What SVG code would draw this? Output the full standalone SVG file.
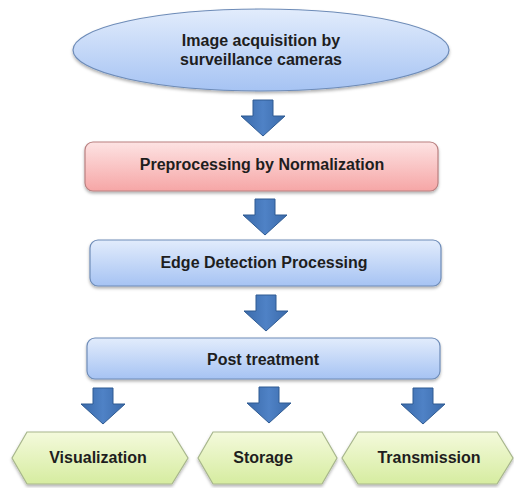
<svg xmlns="http://www.w3.org/2000/svg" width="514" height="488" viewBox="0 0 514 488">
<defs>
<linearGradient id="gBlue" x1="0" y1="0" x2="0" y2="1">
<stop offset="0" stop-color="#e2ecfc"/>
<stop offset="1" stop-color="#a6c3f3"/>
</linearGradient>
<linearGradient id="gPink" x1="0" y1="0" x2="0" y2="1">
<stop offset="0" stop-color="#fde3e3"/>
<stop offset="1" stop-color="#f6a6a6"/>
</linearGradient>
<linearGradient id="gGreen" x1="0" y1="0" x2="0" y2="1">
<stop offset="0" stop-color="#f4fadc"/>
<stop offset="1" stop-color="#d6eca0"/>
</linearGradient>
<linearGradient id="gArrow" x1="0" y1="0" x2="1" y2="0">
<stop offset="0" stop-color="#3a6aaa"/>
<stop offset="0.5" stop-color="#4f82c6"/>
<stop offset="1" stop-color="#3a6aaa"/>
</linearGradient>
<filter id="sh" x="-10%" y="-20%" width="120%" height="150%">
<feDropShadow dx="0" dy="2" stdDeviation="1.5" flood-color="#000" flood-opacity="0.3"/>
</filter>
<path id="arr" d="M-10,0 H10 V16 H22 L0,36 L-22,16 H-10 Z"/>
</defs>
<style>
.lbl{font-family:"Liberation Sans",Arial,sans-serif;font-weight:bold;font-size:16px;fill:#1e1e1e;text-anchor:middle}
.blue{fill:url(#gBlue);stroke:#6e8cb8;stroke-width:1.2}
.pink{fill:url(#gPink);stroke:#b98080;stroke-width:1.2}
.green{fill:url(#gGreen);stroke:#a7b68c;stroke-width:1.2}
.arrow{fill:url(#gArrow);stroke:#2e5a92;stroke-width:1}
</style>
<rect width="514" height="488" fill="#ffffff"/>
<g id="connectors">
<use href="#arr" class="arrow" x="263" y="100"/>
<use href="#arr" class="arrow" x="265" y="199"/>
<use href="#arr" class="arrow" x="266" y="295"/>
<use href="#arr" class="arrow" x="103" y="388"/>
<use href="#arr" class="arrow" x="269" y="387"/>
<use href="#arr" class="arrow" x="423" y="388"/>
</g>
<g id="acquisition">
<ellipse cx="261" cy="50" rx="188" ry="41" class="blue" filter="url(#sh)"/>
<text class="lbl" x="261" y="46">Image acquisition by</text>
<text class="lbl" x="261" y="65">surveillance cameras</text>
</g>
<g id="preprocessing">
<rect x="85" y="142" width="353" height="49" rx="8" class="pink" filter="url(#sh)"/>
<text class="lbl" x="262" y="170">Preprocessing by Normalization</text>
</g>
<g id="edge">
<rect x="90" y="240" width="351" height="46" rx="8" class="blue" filter="url(#sh)"/>
<text class="lbl" x="264" y="268">Edge Detection Processing</text>
</g>
<g id="post">
<rect x="87" y="338" width="353" height="41" rx="8" class="blue" filter="url(#sh)"/>
<text class="lbl" x="263" y="365">Post treatment</text>
</g>
<g id="visualization">
<polygon points="12,458 27,432 172,432 188,458 172,484 27,484" class="green" filter="url(#sh)"/>
<text class="lbl" x="98" y="463">Visualization</text>
</g>
<g id="storage">
<polygon points="198,458 213,432 322,432 337,458 322,484 213,484" class="green" filter="url(#sh)"/>
<text class="lbl" x="263" y="463">Storage</text>
</g>
<g id="transmission">
<polygon points="342,458 358,432 497,432 513,458 497,484 358,484" class="green" filter="url(#sh)"/>
<text class="lbl" x="429" y="463">Transmission</text>
</g>
</svg>
